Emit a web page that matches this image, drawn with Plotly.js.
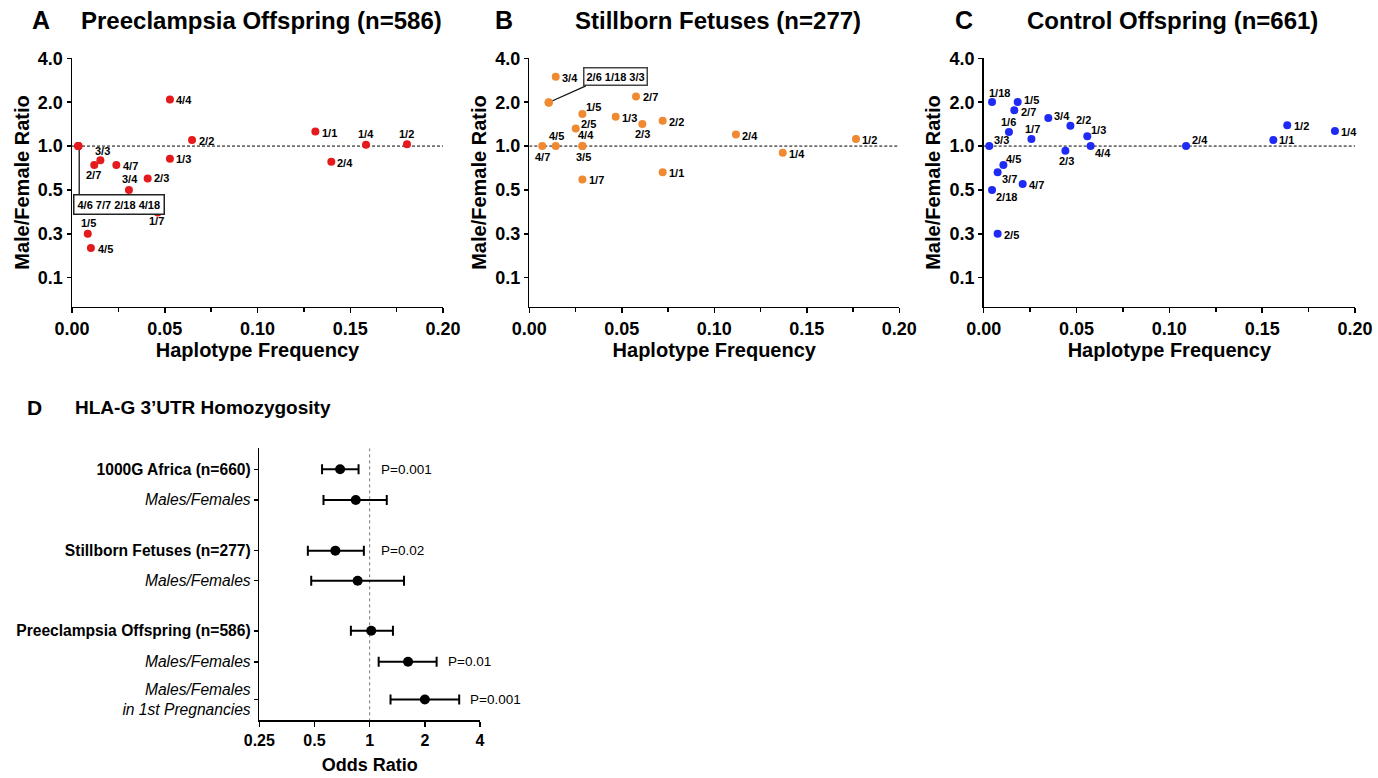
<!DOCTYPE html>
<html><head><meta charset="utf-8">
<script src="https://cdn.plot.ly/plotly-3.0.1.min.js"></script>
<style>html,body{margin:0;padding:0;background:#fff}#chart{width:1378px;height:778px}</style>
</head><body><div id="chart"></div>
<script>
// ---------- Panel A: Preeclampsia Offspring ----------
const hapA   = ['3/3','2/7','4/7','3/4','2/3','1/3','4/4','2/2','1/7','1/5','4/5','1/1','2/4','1/4','1/2','4/6','7/7','2/18','4/18'];
const freqA  = [0.0153,0.0120,0.0239,0.0307,0.0408,0.0528,0.0528,0.0647,0.0462,0.0085,0.0102,0.1312,0.1398,0.1585,0.1806,0.0034,0.0034,0.0034,0.0034];
const ratioA = [0.80,0.74,0.74,0.50,0.60,0.82,2.09,1.10,0.35,0.25,0.20,1.26,0.78,1.02,1.03,1.0,1.0,1.0,1.0];
const boxedA = ['4/6','7/7','2/18','4/18'];

// ---------- Panel B: Stillborn Fetuses ----------
const hapB   = ['3/4','2/7','1/5','1/3','2/5','2/3','2/2','4/7','4/5','4/4','3/5','1/7','1/1','2/4','1/4','1/2','2/6','1/18','3/3'];
const freqB  = [0.0143,0.0577,0.0287,0.0467,0.0251,0.0611,0.0721,0.0070,0.0143,0.0287,0.0287,0.0287,0.0721,0.1117,0.1370,0.1766,0.0105,0.0105,0.0105];
const ratioB = [2.99,2.19,1.66,1.59,1.32,1.42,1.49,1.0,1.0,1.0,1.0,0.59,0.66,1.20,0.90,1.12,1.99,1.99,1.99];
const boxedB = ['2/6','1/18','3/3'];

// ---------- Panel C: Control Offspring ----------
const hapC   = ['1/18','1/5','2/7','3/4','2/2','1/6','1/7','1/3','3/3','2/3','4/4','2/4','4/5','3/7','4/7','2/18','2/5','1/2','1/1','1/4'];
const freqC  = [0.0045,0.0183,0.0165,0.0348,0.0467,0.0136,0.0257,0.0558,0.0030,0.0440,0.0576,0.1090,0.0106,0.0075,0.0210,0.0045,0.0075,0.1635,0.1560,0.1892];
const ratioC = [2.01,2.01,1.76,1.56,1.38,1.25,1.12,1.17,1.0,0.93,1.0,1.0,0.74,0.66,0.55,0.50,0.25,1.39,1.10,1.27];

// ---------- Panel D: HLA-G 3'UTR Homozygosity ----------
const forestLabels = ['1000G Africa (n=660)','Males/Females','Stillborn Fetuses (n=277)','Males/Females','Preeclampsia Offspring (n=586)','Males/Females','Males/Females<br>in 1st Pregnancies'];
const forestIsGroup = [true,false,true,false,true,false,false];
const forestOR = [0.69,0.84,0.65,0.86,1.02,1.62,2.00];
const forestLo = [0.55,0.56,0.46,0.48,0.79,1.12,1.30];
const forestHi = [0.87,1.24,0.93,1.54,1.34,2.32,3.08];
const forestP  = ['P=0.001','','P=0.02','','','P=0.01','P=0.001'];

const ratioTicks = [0.125,0.25,0.5,1,2,4];
const ratioTickText = ['0.1','0.3','0.5','1.0','2.0','4.0'];
const orTicks = [0.25,0.5,1,2,4];
const orTickText = ['0.25','0.5','1','2','4'];

// ---------- layout constants (label offsets in px: [dx right, dy down]) ----------
const W = 1378, H = 778;
const FONT = 'Arial, "Liberation Sans", Helvetica, sans-serif';
const offA = [[2,-9],[-1,10],[14,1],[1,-11],[14,0],[14,0],[14,1],[14,1],[-1,9],[1,-11],[15,1],[14,1.5],[14,1],[0,-10.5],[-1,-10]];
const offB = [[14,1],[14,1],[11,-6.5],[14,1.5],[13,-4],[0,10.5],[14,1],[0,10.5],[1,-10],[3.5,-11],[1.5,10.5],[14,1],[14,1],[14,1],[14.5,1.5],[14,1]];
const offC = [[7,-9],[14,-1.5],[14,1.5],[14,-2],[13.5,-6],[0,-10],[1,-10],[11.5,-6.5],[12.5,-6],[1.5,10.5],[12,7],[14,-6],[10.5,-6],[12,7],[14,1.5],[14.5,7],[14,1.5],[14,1],[13.5,0],[14,1.5]];
const rowY = [0,1,2.65,3.63,5.26,6.27,7.5];

const yDom = [0.6058, 0.9250];
const yRange = [-1.1024, Math.log10(4)];
const panels = [
  {xa:'x', ya:'y', dom:[0.05225,0.32148], hap:hapA, f:freqA, r:ratioA, boxed:boxedA, off:offA, color:'#e41a1c'},
  {xa:'x2', ya:'y2', dom:[0.3841,0.6526], hap:hapB, f:freqB, r:ratioB, boxed:boxedB, off:offB, color:'#f08a32'},
  {xa:'x3', ya:'y3', dom:[0.71386,0.98331], hap:hapC, f:freqC, r:ratioC, boxed:[], off:offC, color:'#1f2bf5'}
];

const traces = [];
panels.forEach(p => {
  traces.push({x:[0,0.2], y:[1,1], xaxis:p.xa, yaxis:p.ya, mode:'lines', line:{color:'#000', width:1, dash:'3px,2px'}, hoverinfo:'skip', showlegend:false});
});

// callout lines (from the grouped point to its label box)
const giA = hapA.indexOf(boxedA[0]);
traces.push({x:[freqA[giA]+0.0005, freqA[giA]+0.0005], y:[ratioA[giA], 0.46], xaxis:'x', yaxis:'y', mode:'lines', line:{color:'#333', width:1.5}, hoverinfo:'skip', showlegend:false});
const giB = hapB.indexOf(boxedB[0]);
traces.push({x:[freqB[giB], 0.0306], y:[ratioB[giB], 2.59], xaxis:'x2', yaxis:'y2', mode:'lines', line:{color:'#111', width:1.2}, hoverinfo:'skip', showlegend:false});

panels.forEach(p => {
  traces.push({x:p.f, y:p.r, text:p.hap, xaxis:p.xa, yaxis:p.ya, mode:'markers',
    marker:{color:p.color, size:8}, cliponaxis:false, showlegend:false, hovertemplate:'%{text}: %{x}, %{y}<extra></extra>'});
});

// Panel D traces
traces.push({x:[1,1], y:[-0.684, 8.166], xaxis:'x4', yaxis:'y4', mode:'lines', line:{color:'#777', width:1, dash:'dot'}, hoverinfo:'skip', showlegend:false});
traces.push({x:forestOR, y:rowY, xaxis:'x4', yaxis:'y4', mode:'markers', marker:{color:'#000', size:10},
  error_x:{type:'data', symmetric:false, array:forestHi.map((h,i)=>h-forestOR[i]), arrayminus:forestOR.map((o,i)=>o-forestLo[i]), color:'#000', thickness:2, width:5},
  showlegend:false, hovertemplate:'OR %{x}<extra></extra>'});

function scatterX(title){
  return {showline:true, linecolor:'#000', linewidth:1.5, ticks:'outside', ticklen:5, tickwidth:1.5, tickcolor:'#000',
    range:[0,0.2], tick0:0, dtick:0.05, tickformat:'.2f', showgrid:false, zeroline:false,
    minor:{dtick:0.025, ticks:'outside', ticklen:4, tickwidth:1.5, tickcolor:'#000', showgrid:false},
    tickfont:{size:18, weight:700, family:FONT, color:'#000'},
    title:{text:title, font:{size:20, weight:700, family:FONT, color:'#000'}, standoff:5}};
}
function scatterY(){
  return {type:'log', domain:yDom, range:yRange, tickmode:'array', tickvals:ratioTicks, ticktext:ratioTickText,
    showline:true, linecolor:'#000', linewidth:1.5, ticks:'outside', ticklen:4, tickwidth:1.5, tickcolor:'#000',
    showgrid:false, zeroline:false, tickfont:{size:18, weight:700, family:FONT, color:'#000'},
    title:{text:'Male/Female Ratio', font:{size:20, weight:700, family:FONT, color:'#000'}, standoff:3}};
}

const layout = {
  width:W, height:H, margin:{l:0,r:0,t:0,b:0}, paper_bgcolor:'#fff', plot_bgcolor:'rgba(0,0,0,0)',
  font:{family:FONT, color:'#000'}, showlegend:false,
  xaxis:Object.assign(scatterX('Haplotype Frequency'), {domain:panels[0].dom, anchor:'y'}),
  yaxis:Object.assign(scatterY(), {anchor:'x'}),
  xaxis2:Object.assign(scatterX('Haplotype Frequency'), {domain:panels[1].dom, anchor:'y2'}),
  yaxis2:Object.assign(scatterY(), {anchor:'x2'}),
  xaxis3:Object.assign(scatterX('Haplotype Frequency'), {domain:panels[2].dom, anchor:'y3'}),
  yaxis3:Object.assign(scatterY(), {anchor:'x3'}),
  xaxis4:{domain:[0.18817,0.34833], anchor:'y4', type:'log', range:[Math.log10(0.25), Math.log10(4)],
    tickmode:'array', tickvals:orTicks, ticktext:orTickText, showline:true, linecolor:'#000', linewidth:1.5,
    ticks:'outside', ticklen:5, tickwidth:1.5, tickcolor:'#000', showgrid:false, zeroline:false,
    tickfont:{size:16, weight:700, family:FONT, color:'#000'},
    title:{text:'Odds Ratio', font:{size:18, weight:700, family:FONT, color:'#000'}, standoff:10}},
  yaxis4:{domain:[0.07455,0.42378], anchor:'x4', range:[8.166,-0.684], tickmode:'array', tickvals:rowY,
    ticktext:forestLabels.map((l,i)=> forestIsGroup[i] ? '<b>'+l+'</b>' : '<i>'+l+'</i>'),
    showline:true, linecolor:'#000', linewidth:1.5, ticks:'outside', ticklen:4, tickwidth:1.5, tickcolor:'#000',
    showgrid:false, zeroline:false, tickfont:{size:15.6, family:FONT, color:'#000'}},
  annotations:[], shapes:[]
};

const ann = layout.annotations;
function px(xp, yp){ return {x:xp/W, y:1-yp/H, xref:'paper', yref:'paper'}; }
function addText(xp, yp, text, size, anchor, weight){
  ann.push(Object.assign(px(xp,yp), {text:text, showarrow:false, xanchor:anchor||'left', yanchor:'middle',
    font:{size:size, weight:weight||700, family:FONT, color:'#000'}}));
}
addText(30, 20, 'A', 25);
addText(79, 20, 'Preeclampsia Offspring (n=586)', 24);
addText(493, 20, 'B', 25);
addText(573, 20, 'Stillborn Fetuses (n=277)', 24);
addText(953, 20, 'C', 25);
addText(1025, 20, 'Control Offspring (n=661)', 24);
addText(25, 407, 'D', 21);
addText(73, 407, 'HLA-G 3’UTR Homozygosity', 19);

// point labels
panels.forEach(p => {
  p.hap.forEach((h,i) => {
    if(p.boxed.includes(h)) return;
    const o = p.off[i];
    ann.push({xref:p.xa, yref:p.ya, x:p.f[i], y:Math.log10(p.r[i]), xshift:o[0], yshift:-o[1],
      xanchor:'center', yanchor:'middle', text:h, showarrow:false,
      font:{size:11, weight:700, family:FONT, color:'#000'}});
  });
});

// label boxes for grouped points
ann.push({xref:'x', yref:'y', x:0.0252, y:Math.log10(0.40), text:boxedA.join(' '), showarrow:false,
  bordercolor:'#222', borderwidth:1.5, borderpad:3, bgcolor:'#fff', font:{size:11, weight:700, family:FONT, color:'#000'}});
ann.push({xref:'x2', yref:'y2', x:0.0466, y:Math.log10(2.99), text:boxedB.join(' '), showarrow:false,
  bordercolor:'#444', borderwidth:1.5, borderpad:2, bgcolor:'#fff', font:{size:11, weight:700, family:FONT, color:'#000'}});

// P values
forestP.forEach((t,i) => {
  if(!t) return;
  ann.push({xref:'x4', yref:'y4', x:Math.log10(Math.max(forestHi[i],1)), y:rowY[i], xshift:9, xanchor:'left', yanchor:'middle',
    text:t, showarrow:false, font:{size:13.5, family:FONT, color:'#000'}});
});

Plotly.newPlot('chart', traces, layout, {staticPlot:true, displayModeBar:false});
</script>
</body></html>
